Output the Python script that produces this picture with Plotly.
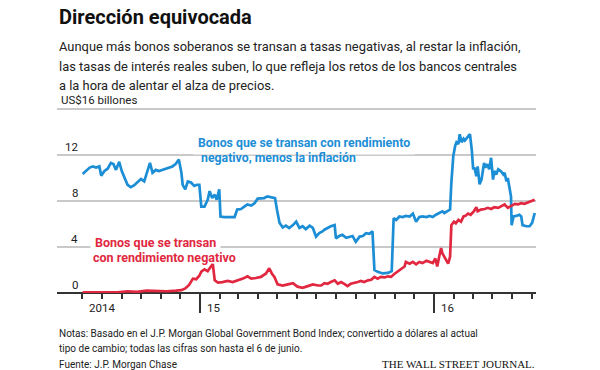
import plotly.graph_objects as go
import pandas as pd

# ---- data (US$ trillions) ----
blue_dates = [
    "2014-07-02", "2014-07-07", "2014-07-13", "2014-07-18", "2014-07-23", "2014-07-28", "2014-07-31",
    "2014-08-05", "2014-08-10", "2014-08-15", "2014-08-19", "2014-08-23", "2014-08-28", "2014-09-01",
    "2014-09-05", "2014-09-10", "2014-09-15", "2014-09-20", "2014-09-25", "2014-10-01", "2014-10-06",
    "2014-10-11", "2014-10-15", "2014-10-19", "2014-10-24", "2014-10-29", "2014-11-04", "2014-11-09",
    "2014-11-14", "2014-11-19", "2014-11-24", "2014-11-29", "2014-12-03", "2014-12-05", "2014-12-09",
    "2014-12-13", "2014-12-18", "2014-12-23", "2014-12-27", "2014-12-31", "2015-01-03", "2015-01-08",
    "2015-01-13", "2015-01-16", "2015-01-20", "2015-01-24", "2015-01-27", "2015-01-31", "2015-02-02",
    "2015-02-08", "2015-02-16", "2015-02-24", "2015-02-28", "2015-03-06", "2015-03-11", "2015-03-16",
    "2015-03-22", "2015-03-27", "2015-04-01", "2015-04-06", "2015-04-11", "2015-04-16", "2015-04-23",
    "2015-04-28", "2015-05-01", "2015-05-05", "2015-05-10", "2015-05-15", "2015-05-20", "2015-05-26",
    "2015-05-31", "2015-06-05", "2015-06-10", "2015-06-15", "2015-06-21", "2015-06-26", "2015-07-01",
    "2015-07-06", "2015-07-11", "2015-07-14", "2015-07-19", "2015-07-24", "2015-07-30", "2015-08-01",
    "2015-08-06", "2015-08-11", "2015-08-17", "2015-08-22", "2015-08-27", "2015-09-01", "2015-09-07",
    "2015-09-12", "2015-09-17", "2015-09-22", "2015-09-27", "2015-09-30", "2015-10-05", "2015-10-13",
    "2015-10-21", "2015-10-27", "2015-10-30", "2015-11-03", "2015-11-08", "2015-11-13", "2015-11-18",
    "2015-11-24", "2015-11-29", "2015-12-04", "2015-12-09", "2015-12-14", "2015-12-20", "2015-12-25",
    "2015-12-30", "2016-01-04", "2016-01-09", "2016-01-14", "2016-01-17", "2016-01-22", "2016-01-26",
    "2016-01-28", "2016-01-31", "2016-02-03", "2016-02-05", "2016-02-08", "2016-02-10", "2016-02-13",
    "2016-02-16", "2016-02-18", "2016-02-23", "2016-02-26", "2016-02-29", "2016-03-02", "2016-03-04",
    "2016-03-07", "2016-03-09", "2016-03-12", "2016-03-15", "2016-03-19", "2016-03-21", "2016-03-24",
    "2016-03-27", "2016-03-30", "2016-04-02", "2016-04-04", "2016-04-07", "2016-04-10", "2016-04-14",
    "2016-04-18", "2016-04-20", "2016-04-23", "2016-04-25", "2016-04-28", "2016-04-30", "2016-05-01",
    "2016-05-04", "2016-05-08", "2016-05-13", "2016-05-16", "2016-05-18", "2016-05-24", "2016-05-29",
    "2016-06-02", "2016-06-05", "2016-06-06",
]
blue_vals = [
    10.35, 10.6, 10.9, 11.0, 10.9, 11.0, 10.2,
    10.6, 10.8, 11.3, 11.2, 10.7, 11.4, 10.6,
    10.0, 9.4, 9.2, 9.35, 9.6, 9.9, 9.7,
    10.6, 11.3, 10.45, 10.7, 10.6, 10.7, 10.8,
    10.9, 11.0, 11.2, 11.6, 10.45, 9.4, 9.0,
    9.7, 9.6, 9.3, 9.4, 9.4, 7.5, 7.5,
    8.1, 8.85, 8.25, 8.55, 8.1, 9.0, 6.65,
    6.6, 6.6, 6.6, 7.25, 7.3, 7.5, 7.7,
    7.6, 7.8, 8.2, 8.2, 8.25, 8.4, 8.35,
    8.25, 7.25, 6.1, 5.7, 5.85, 5.65, 5.9,
    6.2, 5.65, 5.8, 5.55, 5.85, 5.65, 4.9,
    5.2, 5.35, 5.5, 5.65, 5.8, 5.9, 4.75,
    4.95, 5.05, 4.8, 4.9, 4.95, 4.45, 4.9,
    4.95, 5.2, 5.15, 5.35, 2.0, 1.85, 1.7,
    1.75, 1.9, 6.5, 6.35, 6.65, 6.6, 6.7,
    6.65, 6.9, 6.2, 6.6, 6.65, 6.6, 6.7,
    6.6, 6.8, 6.95, 7.1, 6.95, 7.1, 7.25,
    9.6, 11.9, 12.8, 13.1, 12.95, 13.8, 13.1,
    13.4, 13.25, 13.65, 13.8, 12.35, 10.75, 10.9,
    10.15, 11.0, 9.45, 9.85, 11.3, 10.9, 11.2,
    10.75, 11.75, 9.85, 10.6, 10.3, 10.75, 10.6,
    10.3, 10.45, 9.7, 10.0, 9.15, 8.4, 5.9,
    6.65, 6.7, 6.8, 6.65, 5.9, 5.8, 5.8,
    6.1, 6.9, 6.95,
]

red_dates = [
    "2014-07-02", "2014-07-20", "2014-08-10", "2014-08-25", "2014-09-10", "2014-09-25", "2014-10-10",
    "2014-10-25", "2014-11-10", "2014-11-25", "2014-12-03", "2014-12-09", "2014-12-15", "2014-12-21",
    "2014-12-26", "2014-12-31", "2015-01-03", "2015-01-08", "2015-01-13", "2015-01-18", "2015-01-21",
    "2015-01-24", "2015-01-29", "2015-02-05", "2015-02-13", "2015-02-21", "2015-03-01", "2015-03-09",
    "2015-03-16", "2015-03-22", "2015-03-29", "2015-04-06", "2015-04-14", "2015-04-19", "2015-04-23",
    "2015-04-27", "2015-05-02", "2015-05-10", "2015-05-18", "2015-05-26", "2015-06-02", "2015-06-10",
    "2015-06-18", "2015-06-26", "2015-07-04", "2015-07-09", "2015-07-14", "2015-07-19", "2015-07-24",
    "2015-07-30", "2015-08-04", "2015-08-09", "2015-08-14", "2015-08-19", "2015-08-24", "2015-08-30",
    "2015-09-04", "2015-09-09", "2015-09-14", "2015-09-20", "2015-09-25", "2015-09-30", "2015-10-05",
    "2015-10-10", "2015-10-16", "2015-10-21", "2015-10-26", "2015-10-31", "2015-11-05", "2015-11-10",
    "2015-11-16", "2015-11-18", "2015-11-24", "2015-11-29", "2015-12-04", "2015-12-09", "2015-12-14",
    "2015-12-20", "2015-12-25", "2015-12-30", "2016-01-03", "2016-01-06", "2016-01-09", "2016-01-12",
    "2016-01-14", "2016-01-20", "2016-01-23", "2016-01-26", "2016-01-28", "2016-02-01", "2016-02-04",
    "2016-02-08", "2016-02-12", "2016-02-16", "2016-02-19", "2016-02-23", "2016-02-27", "2016-03-03",
    "2016-03-07", "2016-03-09", "2016-03-14", "2016-03-20", "2016-03-25", "2016-03-30", "2016-04-04",
    "2016-04-10", "2016-04-15", "2016-04-20", "2016-04-25", "2016-04-30", "2016-05-06", "2016-05-11",
    "2016-05-16", "2016-05-21", "2016-05-27", "2016-06-01", "2016-06-06",
]
red_vals = [
    0.05, 0.05, 0.1, 0.05, 0.15, 0.1, 0.2,
    0.15, 0.15, 0.2, 0.25, 0.4, 0.7, 1.25,
    1.2, 1.5, 1.85, 2.05, 1.9, 2.3, 2.5,
    1.1, 0.9, 0.95, 1.05, 0.95, 1.1, 1.25,
    1.45, 1.25, 1.3, 1.4, 1.7, 2.15, 1.7,
    1.4, 0.75, 0.65, 0.75, 0.85, 0.55, 0.45,
    0.6, 0.75, 0.65, 0.65, 0.85, 0.8, 0.95,
    1.1, 0.8, 0.95, 0.8, 0.6, 0.8, 0.85,
    0.95, 1.05, 0.95, 1.1, 1.15, 1.4, 1.25,
    1.4, 1.35, 1.45, 1.4, 1.65, 1.85, 2.0,
    2.3, 2.7, 2.55, 2.7, 2.5, 2.7, 2.6,
    2.8, 2.7, 2.6, 3.0, 2.3, 3.15, 3.9,
    3.45, 2.85, 2.55, 3.15, 5.9, 6.2, 6.05,
    6.35, 6.2, 6.65, 6.7, 6.9, 6.8, 7.1,
    7.45, 7.1, 7.25, 7.3, 7.4, 7.3, 7.45,
    7.4, 7.55, 7.7, 7.4, 7.55, 7.75, 7.7,
    7.8, 7.75, 7.9, 8.0, 8.1,
]

y_ticks = [0, 4, 8, 12]
y_tick_labels = ["0", "4", "8", "12"]
y_grid = [0, 4, 8, 12, 16]
year_tick_dates = ["2015-01-01", "2016-01-01"]
year_label_dates = ["2014-07-01", "2015-01-01", "2016-01-01"]
year_labels = ["2014", "15", "16"]
month_ticks = [d.strftime("%Y-%m-%d") for d in pd.date_range("2014-07-01", "2016-06-01", freq="MS")]

title_text = "Dirección equivocada"
subtitle_lines = [
    "Aunque más bonos soberanos se transan a tasas negativas, al restar la inflación,",
    "las tasas de interés reales suben, lo que refleja los retos de los bancos centrales",
    "a la hora de alentar el alza de precios.",
]
note_lines = [
    "Notas: Basado en el J.P. Morgan Global Government Bond Index; convertido a dólares al actual",
    "tipo de cambio; todas las cifras son hasta el 6 de junio.",
    "Fuente: J.P. Morgan Chase",
]

BLUE = "#1c8ed6"
RED = "#e12840"
TXT = "#222"
FONT = "Roboto, Liberation Sans, sans-serif"
XR = ["2014-05-23", "2016-06-08"]
YMAX = 16.25  # a little headroom so the 16 gridline is drawn

# page has an 8px body margin: figure is drawn 8px right/down of the window corner
OFF = 8
W, H = 600 - OFF, 370 - OFF
UNIT = 11.5  # px per unit on the reference
L = 57 - OFF
T = 109 - OFF - (YMAX - 16) * UNIT
R = W - (536 - OFF)
B = H - (293 - OFF)
PW, PH = W - L - R, H - T - B


def px(x):  # reference-window pixel -> paper x
    return (x - OFF - L) / PW


def py(y):  # reference-window pixel -> paper y
    return (H - B - (y - OFF)) / PH


fig = go.Figure()
fig.add_trace(go.Scatter(x=blue_dates, y=blue_vals, mode="lines",
                         line=dict(color=BLUE, width=2.7), hoverinfo="skip",
                         xaxis="x", yaxis="y"))
fig.add_trace(go.Scatter(x=red_dates, y=red_vals, mode="lines",
                         line=dict(color=RED, width=2.7), hoverinfo="skip",
                         xaxis="x2", yaxis="y"))

fig.update_layout(
    width=W, height=H,
    margin=dict(l=L, r=R, t=T, b=B, pad=0),
    paper_bgcolor="white", plot_bgcolor="white",
    showlegend=False,
    font=dict(family=FONT, color=TXT),
    xaxis=dict(type="date", range=XR, tickmode="array", tickvals=month_ticks,
               showticklabels=False, ticks="outside", ticklen=5, tickwidth=1.5,
               tickcolor="#333", showgrid=False, zeroline=False, showline=False,
               layer="below traces", fixedrange=True),
    xaxis2=dict(type="date", range=XR, overlaying="x", anchor="y", side="bottom",
                tickmode="array", tickvals=year_tick_dates, showticklabels=False,
                ticks="outside", ticklen=19, tickwidth=1.5, tickcolor="#333",
                showgrid=False, zeroline=False, showline=False,
                layer="below traces", fixedrange=True),
    yaxis=dict(range=[0, YMAX], tickmode="array", tickvals=y_grid,
               showticklabels=False, showgrid=True, gridcolor="#c9c9c9",
               gridwidth=1.6, zeroline=True, zerolinecolor="#333",
               zerolinewidth=1.6, showline=False, layer="below traces",
               fixedrange=True),
)

ann = []
ann.append(dict(text="<b>" + title_text + "</b>", xref="paper", yref="paper",
                x=px(57), y=py(17), xanchor="left", yanchor="middle",
                showarrow=False, font=dict(size=20, color="#111", family=FONT)))
for i, line in enumerate(subtitle_lines):
    ann.append(dict(text=line, xref="paper", yref="paper", x=px(57), y=py(47 + 19.5 * i),
                    xanchor="left", yanchor="middle", showarrow=False,
                    font=dict(size=12.9, color=TXT, family=FONT)))
ann.append(dict(text="US$16 billones", xref="paper", yref="paper", x=px(59), y=py(100),
                xanchor="left", yanchor="middle", showarrow=False,
                font=dict(size=11.5, color=TXT, family=FONT)))
for v, lab in zip(y_ticks, y_tick_labels):
    ann.append(dict(text=lab, xref="paper", yref="y", x=px(80), y=v, yshift=8,
                    xanchor="right", yanchor="middle", showarrow=False,
                    font=dict(size=11.5, color=TXT, family=FONT)))
for d, lab in zip(year_label_dates, year_labels):
    ann.append(dict(text=lab, xref="x", yref="paper", x=d, y=py(308), xshift=5,
                    xanchor="left", yanchor="middle", showarrow=False,
                    font=dict(size=11.5, color=TXT, family=FONT)))
# series labels
ann.append(dict(text="<b>Bonos que se transan con rendimiento</b>", xref="paper", yref="paper",
                x=px(193), y=py(143), xanchor="left", yanchor="middle", showarrow=False,
                bgcolor="white", borderpad=4,
                font=dict(size=12.3, color=BLUE, family=FONT)))
ann.append(dict(text="<b>negativo, menos la inflación</b>", xref="paper", yref="paper",
                x=px(199), y=py(158), xanchor="left", yanchor="middle", showarrow=False,
                font=dict(size=12.3, color=BLUE, family=FONT)))
ann.append(dict(text="<b>Bonos que se transan</b>", xref="paper", yref="paper",
                x=px(90), y=py(243), xanchor="left", yanchor="middle", showarrow=False,
                bgcolor="white", borderpad=4,
                font=dict(size=12.5, color=RED, family=FONT)))
ann.append(dict(text="<b>con rendimiento negativo</b>", xref="paper", yref="paper",
                x=px(91), y=py(258), xanchor="left", yanchor="middle", showarrow=False,
                font=dict(size=12.5, color=RED, family=FONT)))
for line, yy in zip(note_lines, [333, 348, 364]):
    ann.append(dict(text=line, xref="paper", yref="paper", x=px(57), y=py(yy),
                    xanchor="left", yanchor="middle", showarrow=False,
                    font=dict(size=10, color=TXT, family=FONT)))
ann.append(dict(text="THE WALL STREET JOURNAL.", xref="paper", yref="paper",
                x=px(537), y=py(364), xanchor="right", yanchor="middle", showarrow=False,
                font=dict(size=11, color="#111", family="Liberation Serif, serif")))

fig.update_layout(annotations=ann)
fig.write_html("out.html")
